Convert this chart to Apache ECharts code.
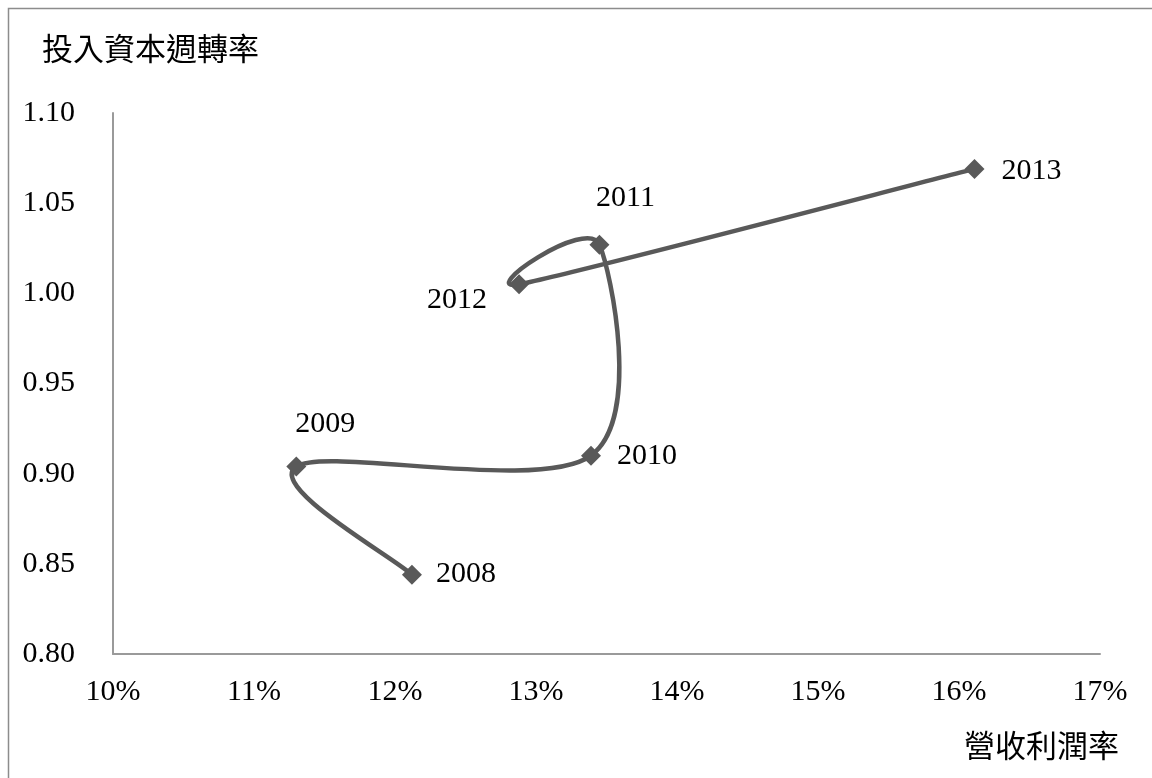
<!DOCTYPE html>
<html>
<head>
<meta charset="utf-8">
<script src="https://cdn.jsdelivr.net/npm/echarts@6/dist/echarts.min.js"></script>
<style>
  html, body { margin: 0; padding: 0; background: #fff; }
  #chart { width: 1152px; height: 778px; }
</style>
</head>
<body>
<div id="chart"></div>
<script>
// Operating margin (%) vs. invested-capital turnover, by year
const years = ['2008', '2009', '2010', '2011', '2012', '2013'];
const operatingMargin = [12.12, 11.30, 13.39, 13.45, 12.88, 16.11];
const capitalTurnover = [0.844, 0.904, 0.910, 1.027, 1.005, 1.069];
const xTicks = { min: 10, max: 17, interval: 1 };
const yTicks = { min: 0.80, max: 1.10, interval: 0.05 };

const serif = '"Liberation Serif", "Times New Roman", serif';
const cjk = '"Noto Sans CJK TC", "Noto Sans CJK SC", sans-serif';
const axisGray = '#9a9a9a';
const lineGray = '#595959';

// where each year's label sits relative to its marker
const labelOffset = {
  '2008': [54, -1],
  '2009': [29, -42],
  '2010': [56, 0],
  '2011': [26, -47],
  '2012': [-62, 16],
  '2013': [57, 2]
};

const dist = (a, b) => Math.hypot(b[0] - a[0], b[1] - a[1]);

// Bezier path through pixel points, spreadsheet-style smoothing:
// tangent = (next - prev) / 6, capped at half of the segment length.
function smoothPath(pts) {
  const n = pts.length;
  let d = 'M' + pts[0][0] + ',' + pts[0][1];
  for (let i = 0; i < n - 1; i++) {
    const p0 = pts[Math.max(i - 1, 0)];
    const p1 = pts[i];
    const p2 = pts[i + 1];
    const p3 = pts[Math.min(i + 2, n - 1)];
    const d12 = dist(p1, p2);
    const d02 = dist(p0, p2);
    const d13 = dist(p1, p3);
    const f = (d02 / 6 < d12 / 2 || d02 === 0) ? 1 / 6 : d12 / 2 / d02;
    const g = (d13 / 6 < d12 / 2 || d13 === 0) ? 1 / 6 : d12 / 2 / d13;
    const c1 = [p1[0] + (p2[0] - p0[0]) * f, p1[1] + (p2[1] - p0[1]) * f];
    const c2 = [p2[0] - (p3[0] - p1[0]) * g, p2[1] - (p3[1] - p1[1]) * g];
    d += ' C' + c1[0] + ',' + c1[1] + ' ' + c2[0] + ',' + c2[1] + ' ' + p2[0] + ',' + p2[1];
  }
  return d;
}

const pairs = years.map((y, i) => [operatingMargin[i], capitalTurnover[i]]);

const points = years.map((y, i) => ({
  value: pairs[i],
  label: { offset: labelOffset[y] }
}));

const chart = echarts.init(document.getElementById('chart'));
chart.setOption({
  animation: false,
  backgroundColor: '#fff',
  graphic: [{
    type: 'rect',
    shape: { x: 8.5, y: 8.5, width: 1200, height: 820 },
    style: { fill: 'none', stroke: '#8c8c8c', lineWidth: 1.5 },
    silent: true,
    z: -1
  }, {
    type: 'text',
    left: 42, top: 33,
    style: { text: '投入資本週轉率', font: '31px ' + cjk, fill: '#000' }
  }, {
    type: 'text',
    left: 964, top: 730,
    style: { text: '營收利潤率', font: '31px ' + cjk, fill: '#000' }
  }],
  grid: { left: 113, right: 52, top: 113, bottom: 124, containLabel: false },
  xAxis: {
    type: 'value',
    min: xTicks.min, max: xTicks.max, interval: xTicks.interval,
    axisLine: { show: true, lineStyle: { color: axisGray, width: 2 } },
    axisTick: { show: false },
    splitLine: { show: false },
    axisLabel: {
      margin: 23,
      color: '#000',
      fontFamily: serif,
      fontSize: 30,
      formatter: v => Math.round(v) + '%'
    }
  },
  yAxis: {
    type: 'value',
    min: yTicks.min, max: yTicks.max, interval: yTicks.interval,
    axisLine: { show: true, lineStyle: { color: axisGray, width: 2 } },
    axisTick: { show: false },
    splitLine: { show: false },
    axisLabel: {
      margin: 38,
      color: '#000',
      fontFamily: serif,
      fontSize: 30,
      formatter: v => v.toFixed(2)
    }
  },
  series: [{
    // smoothed connecting line, drawn once from all points
    type: 'custom',
    data: pairs,
    z: 2,
    renderItem: (params, api) => {
      if (params.dataIndex !== 0) return null;
      const px = pairs.map(p => api.coord(p));
      return {
        type: 'path',
        shape: { pathData: smoothPath(px) },
        style: { fill: 'none', stroke: lineGray, lineWidth: 4.5, lineJoin: 'round', lineCap: 'round' }
      };
    }
  }, {
    type: 'scatter',
    data: points,
    z: 3,
    symbol: 'diamond',
    symbolSize: 20,
    itemStyle: { color: lineGray, opacity: 1 },
    label: {
      show: true,
      position: 'inside',
      color: '#000',
      fontFamily: serif,
      fontSize: 30,
      formatter: p => years[p.dataIndex]
    }
  }]
});
</script>
</body>
</html>
